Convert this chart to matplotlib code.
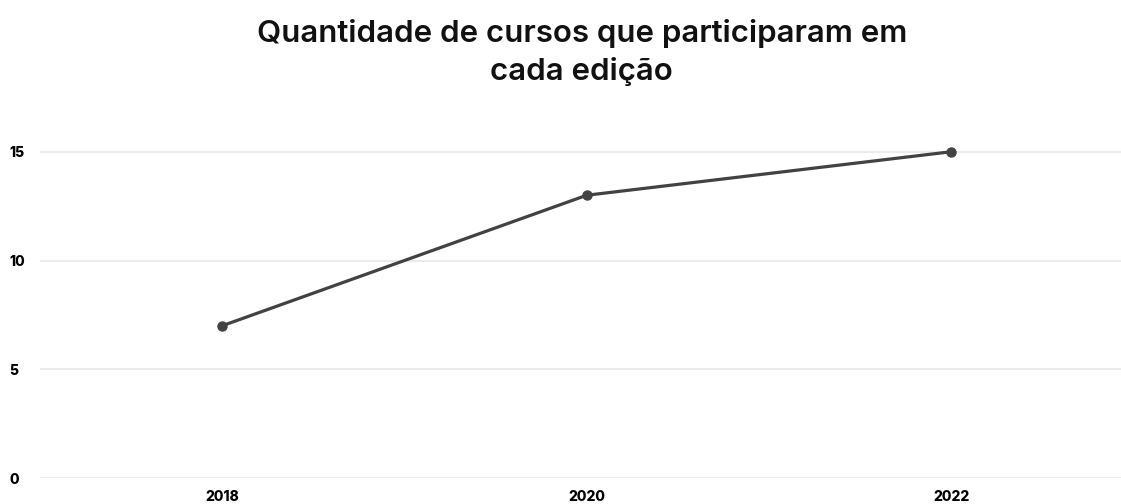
import matplotlib.pyplot as plt

plt.rcParams["font.family"] = ["Inter", "DejaVu Sans"]

# data
anos = ["2018", "2020", "2022"]
cursos = [7, 13, 15]
y_ticks = [0, 5, 10, 15]

W, H = 1121, 504
fig = plt.figure(figsize=(W / 100, H / 100), dpi=100)
ax = fig.add_axes([40 / W, (H - 478) / H, (W - 40) / W, (478 - 130) / H])

x = list(range(len(anos)))
ax.plot(x, cursos, color="#424242", linewidth=2.3, marker="o", markersize=6.5, zorder=3)

ax.set_xlim(-0.5, 2.466)
ax.set_ylim(0, 16)
ax.set_yticks(y_ticks)
ax.set_xticks(x)
ax.set_xticklabels(anos)
ax.grid(axis="y", color="#ebebeb", linewidth=1.5)
ax.set_axisbelow(True)
for s in ax.spines.values():
    s.set_visible(False)
ax.tick_params(length=0, labelsize=10)
ax.tick_params(axis="y", pad=22)
ax.tick_params(axis="x", pad=8.5)
for lbl in ax.get_yticklabels():
    lbl.set_fontweight("heavy")
    lbl.set_horizontalalignment("left")
for lbl in ax.get_xticklabels():
    lbl.set_fontweight("heavy")

fig.text(0.519, 0.962, "Quantidade de cursos que participaram em\ncada edição",
         ha="center", va="top", fontsize=22.5, fontweight="semibold",
         linespacing=1.4, color="#111111")

fig.savefig("out.png", dpi=100)
